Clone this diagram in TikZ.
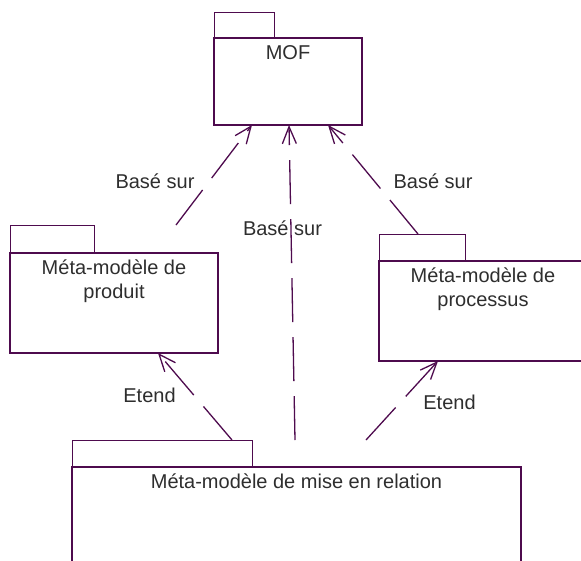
\documentclass[tikz,border=0pt]{standalone}
\usepackage{fontspec}
\setmainfont{Liberation Sans}
\usepackage{xcolor}
\definecolor{umlLine}{HTML}{4E0B4E}
\definecolor{umlText}{HTML}{2E2E2E}
\usetikzlibrary{arrows.meta,positioning}

\begin{document}
\begin{tikzpicture}[x=1pt, y=-1pt,
  pkgbody/.style={draw=umlLine, line width=1.3pt, inner sep=0pt, outer sep=0pt, anchor=north west},
  pkgtab/.style={draw=umlLine, line width=1pt, inner sep=0pt, outer sep=0pt, anchor=south west},
  pkgtext/.style={text=umlText, font=\fontsize{20}{24}\selectfont, align=center, inner sep=0pt, anchor=north},
  deplabel/.style={text=umlText, font=\fontsize{20}{24}\selectfont, inner sep=0pt, anchor=base},
  dep/.style={draw=umlLine, line width=1.3pt, dash pattern=on 44pt off 15pt,
    -{Straight Barb[length=17pt,width=14pt]}}]
  \useasboundingbox (0,0) rectangle (581,560);
  % packages
  \node[pkgbody, minimum width=148, minimum height=87] (mof) at (214,38) {};
  \node[pkgtab, minimum width=60, minimum height=26] (moftab) at (mof.north west) {};
  \node[pkgtext, below=7pt of mof.north] (moftxt) {MOF};

  \node[pkgbody, minimum width=208, minimum height=100] (prod) at (10,253) {};
  \node[pkgtab, minimum width=84, minimum height=28] (prodtab) at (prod.north west) {};
  \node[pkgtext, below=7pt of prod.north] (prodtxt) {Méta-modèle de\\produit};

  \node[pkgbody, minimum width=208, minimum height=100] (proc) at (379,261) {};
  \node[pkgtab, minimum width=86, minimum height=27] (proctab) at (proc.north west) {};
  \node[pkgtext, below=7pt of proc.north] (proctxt) {Méta-modèle de\\processus};

  \node[pkgbody, minimum width=449, minimum height=150] (rel) at (72,467) {};
  \node[pkgtab, minimum width=180, minimum height=27] (reltab) at (rel.north west) {};
  \node[pkgtext, below=7pt of rel.north] (reltxt) {Méta-modèle de mise en relation};

  % dependencies
  \draw[dep] ([xshift=82]prodtab.north east) -- ([xshift=-36]mof.south);
  \draw[dep] ([xshift=43]reltab.north east) -- ([xshift=1]mof.south);
  \draw[dep] ([xshift=39]proctab.north west) -- ([xshift=40]mof.south);
  \draw[dep] ([xshift=-20]reltab.north east) -- ([xshift=44]prod.south);
  \draw[dep] ([xshift=114]reltab.north east) -- ([xshift=-45]proc.south);

  % labels
  \node[deplabel] (lbase1) at (155,188) {Basé sur};
  \node[deplabel] (lbase2) at (282.5,235) {Basé sur};
  \node[deplabel] (lbase3) at (433,188) {Basé sur};
  \node[deplabel] (letend1) at (149.5,402) {Etend};
  \node[deplabel] (letend2) at (449.5,409) {Etend};
\end{tikzpicture}
\end{document}
